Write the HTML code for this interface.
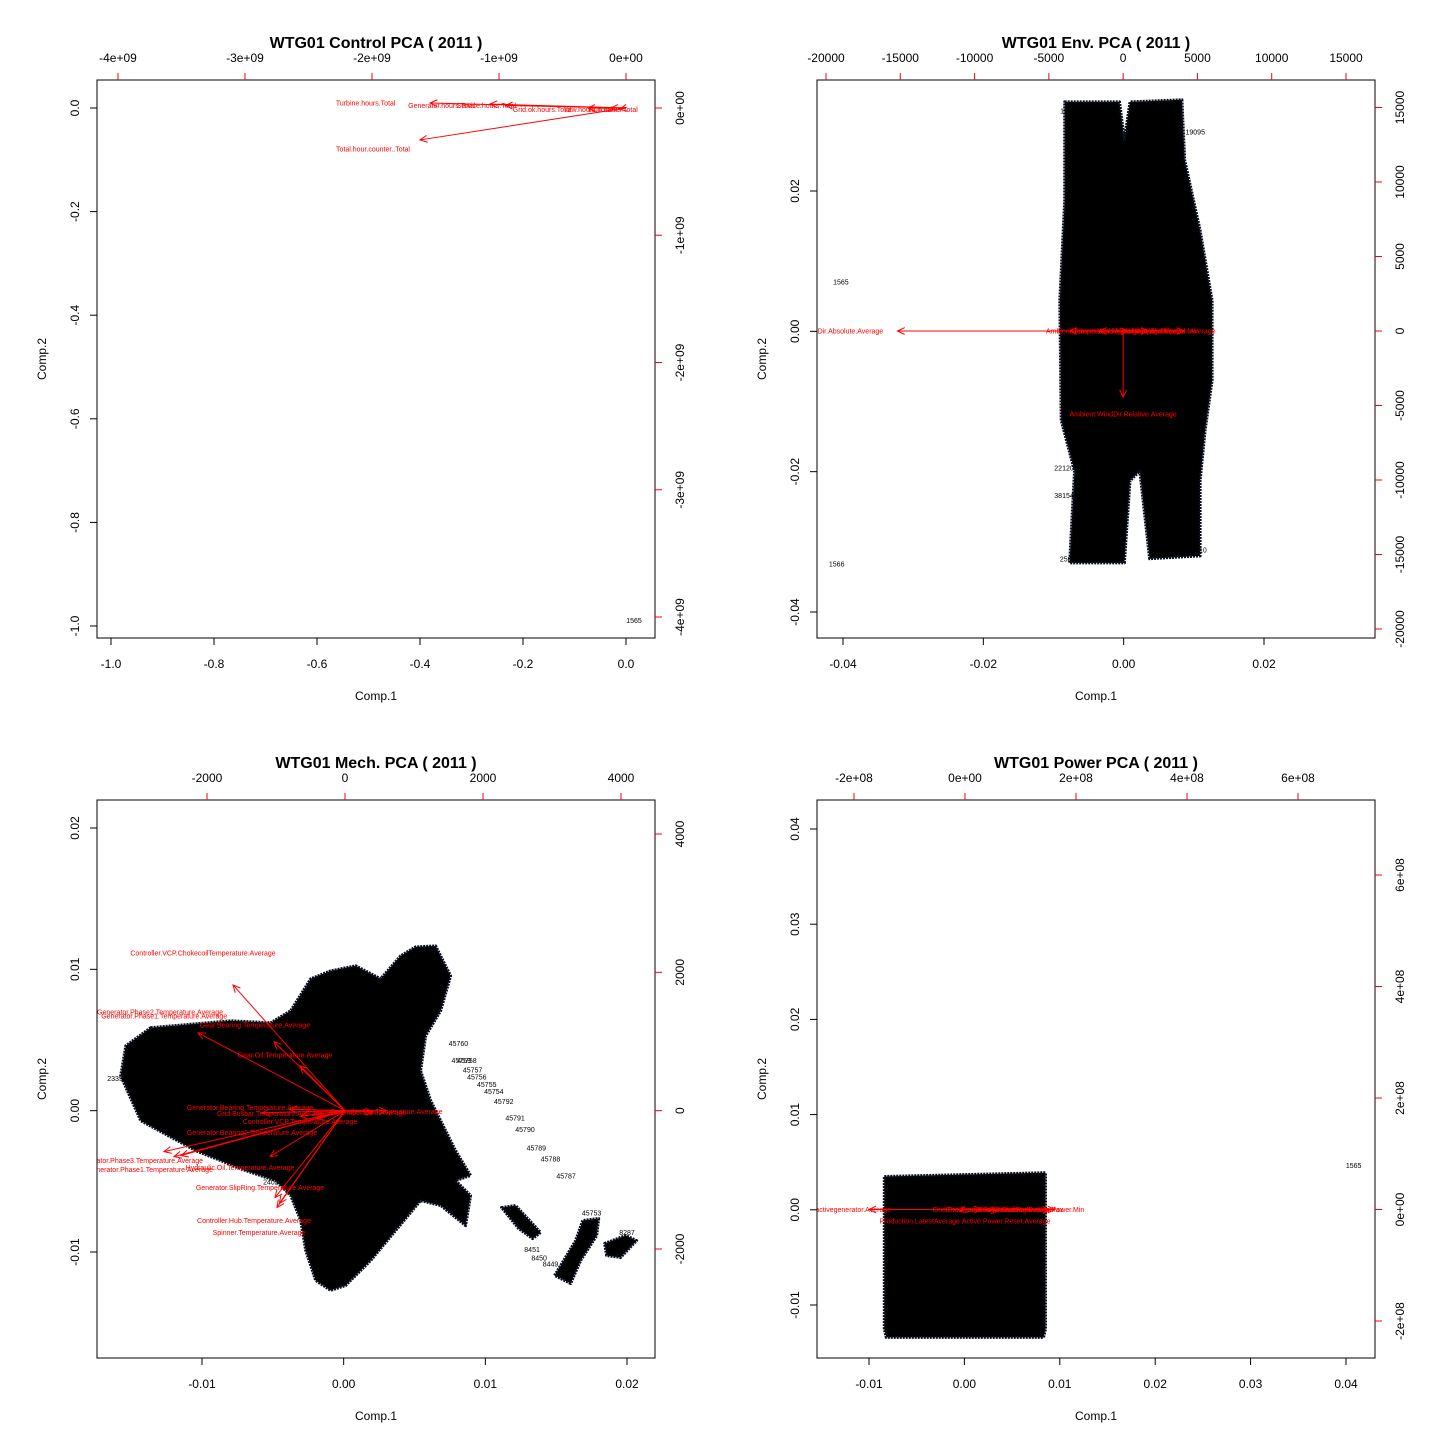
<!DOCTYPE html>
<html><head><meta charset="utf-8"><style>
html,body{margin:0;padding:0;background:#fff}
svg{display:block;font-family:"Liberation Sans",sans-serif}
</style></head><body>
<svg id="chart" width="1440" height="1440" viewBox="0 0 1440 1440"></svg>
<script>
// ---------- DATA ----------
const p1Titles = "WTG01 Control PCA ( 2011 )";
const p1BottomTicks = [-1.0,-0.8,-0.6,-0.4,-0.2,0.0];
const p1BottomLabels = ["-1.0","-0.8","-0.6","-0.4","-0.2","0.0"];
const p1LeftTicks = [0.0,-0.2,-0.4,-0.6,-0.8,-1.0];
const p1LeftLabels = ["0.0","-0.2","-0.4","-0.6","-0.8","-1.0"];
const p1TopTicks = [-4e9,-3e9,-2e9,-1e9,0];
const p1TopLabels = ["-4e+09","-3e+09","-2e+09","-1e+09","0e+00"];
const p1RightTicks = [0,-1e9,-2e9,-3e9,-4e9];
const p1RightLabels = ["0e+00","-1e+09","-2e+09","-3e+09","-4e+09"];
const p1ArrowX = [-1.622e9,-1.543e9,-1.071e9,-0.95e9,-0.30e9,-0.12e9,-0.05e9];
const p1ArrowY = [-0.251e9,0.039e9,0.031e9,0.02e9,0.0,0.0,-0.01e9];
const p1LabelX = [-1.992e9,-2.05e9,-1.45e9,-1.10e9,-0.66e9,-0.3e9,-0.1e9];
const p1LabelY = [-0.322e9,0.039e9,0.02e9,0.02e9,-0.01e9,-0.01e9,-0.01e9];
const p1Names = ["Total.hour.counter..Total","Turbine.hours.Total","Generator.hours.Total","Service.hours.Total","Grid.ok.hours.Total","Yaw.hours.Total","Run.hours.Total"];
const p1PointLabels = ["1565"];
const p1PointX = [0.0155];
const p1PointY = [-0.988];

const p2BottomTicks = [-0.04,-0.02,0.0,0.02];
const p2BottomLabels = ["-0.04","-0.02","0.00","0.02"];
const p2LeftTicks = [0.02,0.0,-0.02,-0.04];
const p2LeftLabels = ["0.02","0.00","-0.02","-0.04"];
const p2TopTicks = [-20000,-15000,-10000,-5000,0,5000,10000,15000];
const p2TopLabels = ["-20000","-15000","-10000","-5000","0","5000","10000","15000"];
const p2RightTicks = [15000,10000,5000,0,-5000,-10000,-15000,-20000];
const p2RightLabels = ["15000","10000","5000","0","-5000","-10000","-15000","-20000"];
const p2ArrowX = [-15190,0,-3600,-1600,1700,4100,300];
const p2ArrowY = [0,-4435,0,0,0,0,50];
const p2LabelX = [-19824,0,-2000,-500,1000,2500,3500];
const p2LabelY = [0,-5578,0,0,0,0,0];
const p2Names = ["Ambient.WindDir.Absolute.Average","Ambient.WindDir.Relative.Average","Ambient.Temperature.Average","Ambient.WindSpeed.Average","Ambient.WindSpeed.Max","Ambient.WindSpeed.Min","Nacelle.Direction.Average"];
const p2BlobX = [-0.0084,-0.0006,0.0001,0.0009,0.0083,0.0087,0.0109,0.0126,0.0126,0.0116,0.0109,0.0109,0.0037,0.0023,0.0009,0.0001,-0.0077,-0.0070,-0.0089,-0.0091,-0.0084];
const p2BlobY = [0.0327,0.0327,0.0273,0.0327,0.0330,0.0244,0.0144,0.0044,-0.0070,-0.0141,-0.0213,-0.0320,-0.0324,-0.0199,-0.0213,-0.0330,-0.0330,-0.0199,-0.0127,0.0044,0.0187];
const p2PointLabels = ["1565","1566","19115","25110","43547","19095","22120","38154","25638"];
const p2PointX = [-0.0403,-0.0409,-0.0077,0.0105,0.0087,0.0102,-0.0085,-0.0085,-0.0077];
const p2PointY = [0.0071,-0.0331,0.0315,-0.0311,0.0164,0.0285,-0.0194,-0.0233,-0.0324];

const p3BottomTicks = [-0.01,0.0,0.01,0.02];
const p3BottomLabels = ["-0.01","0.00","0.01","0.02"];
const p3LeftTicks = [0.02,0.01,0.0,-0.01];
const p3LeftLabels = ["0.02","0.01","0.00","-0.01"];
const p3TopTicks = [-2000,0,2000,4000];
const p3TopLabels = ["-2000","0","2000","4000"];
const p3RightTicks = [4000,2000,0,-2000];
const p3RightLabels = ["4000","2000","0","-2000"];
const p3ArrowX = [-1623,-2130,-1029,-652,-2623,-2478,-2376,-1087,-1014,-986,-950,-800,-1200,-650,400,600,-400];
const p3ArrowY = [1818,1126,996,649,-592,-664,-649,-664,-1255,-1400,-1340,20,-30,-80,-20,0,-120];
const p3LabelX = [-2058,-1304,-869,-2681,-2970,-2826,-2620,-1521,-1232,-1319,-1246,-1377,-1087,-652,-1348,217,600];
const p3LabelY = [2280,1241,808,1429,-722,-851,1371,-823,-1111,-1587,-1760,43,-43,-159,-317,-29,-10];
const p3Names = ["Controller.VCP.ChokecoilTemperature.Average","Gear.Bearing.Temperature.Average","Gear.Oil.Temperature.Average","Generator.Phase2.Temperature.Average","Generator.Phase3.Temperature.Average","Generator.Phase1.Temperature.Average","Generator.Phase1.Temperature.Average","Hydraulic.Oil.Temperature.Average","Generator.SlipRing.Temperature.Average","Controller.Hub.Temperature.Average","Spinner.Temperature.Average","Generator.Bearing.Temperature.Average","Grid.Busbar.Temperature.Average","Controller.VCP.Temperature.Average","Generator.Bearing2.Temperature.Average","Nacelle.Temperature.Average","Controller.Top.Temperature.Average"];
const p3BlobX = [-0.01362,-0.00797,-0.00515,-0.00374,-0.00233,-0.00092,0.00085,0.00261,0.00402,0.00508,0.00649,0.00755,0.00685,0.00579,0.00543,0.00614,0.0079,0.00896,0.0079,0.00896,0.00861,0.00685,0.00543,0.00367,0.00191,0.00014,-0.00092,-0.00198,-0.00268,-0.00303,-0.00374,-0.0048,-0.00692,-0.01044,-0.01433,-0.01574,-0.01538];
const p3BlobY = [0.00587,0.00636,0.00622,0.00707,0.00933,0.00989,0.01025,0.00933,0.01095,0.01159,0.01166,0.00954,0.00707,0.0053,0.00283,0.00071,-0.00283,-0.00459,-0.00495,-0.00601,-0.00813,-0.00671,-0.00636,-0.00848,-0.0106,-0.01237,-0.01272,-0.01201,-0.00989,-0.00777,-0.00601,-0.00495,-0.00424,-0.00283,-0.00071,0.00247,0.00459];
const p3BlobAX = [0.01115,0.01214,0.0139,0.01334,0.01235];
const p3BlobAY = [-0.00686,-0.00671,-0.00862,-0.00905,-0.00834];
const p3BlobBX = [0.01489,0.01637,0.01687,0.018,0.01786,0.01673,0.01602];
const p3BlobBY = [-0.01166,-0.00919,-0.00777,-0.00763,-0.00884,-0.0106,-0.01223];
const p3BlobCX = [0.01842,0.0199,0.02068,0.01955,0.01856];
const p3BlobCY = [-0.0094,-0.00883,-0.00919,-0.01039,-0.01025];
const p3PointLabels = ["45760","45759","45758","45757","45756","45755","45754","45792","45791","45790","45789","45788","45787","45753","8451","8450","8449","8287","23351","24024","24025"];
const p3PointX = [0.0081,0.0083,0.0087,0.0091,0.0094,0.0101,0.0106,0.0113,0.0121,0.0128,0.0136,0.0146,0.0157,0.0175,0.0133,0.0138,0.0146,0.0200,-0.0160,-0.0050,-0.0050];
const p3PointY = [0.0048,0.0036,0.0036,0.0029,0.0024,0.0019,0.0014,0.0007,-0.0005,-0.0013,-0.0026,-0.0034,-0.0046,-0.0072,-0.0098,-0.0104,-0.0108,-0.0086,0.0023,-0.0041,-0.0050];

const p4BottomTicks = [-0.01,0.0,0.01,0.02,0.03,0.04];
const p4BottomLabels = ["-0.01","0.00","0.01","0.02","0.03","0.04"];
const p4LeftTicks = [0.04,0.03,0.02,0.01,0.0,-0.01];
const p4LeftLabels = ["0.04","0.03","0.02","0.01","0.00","-0.01"];
const p4TopTicks = [-2e8,0,2e8,4e8,6e8];
const p4TopLabels = ["-2e+08","0e+00","2e+08","4e+08","6e+08"];
const p4RightTicks = [6e8,4e8,2e8,0,-2e8];
const p4RightLabels = ["6e+08","4e+08","2e+08","0e+00","-2e+08"];
const p4ArrowX = [-1.73e8,1.53e8,-0.1e8,0.6e8,1.62e8,0.3e8];
const p4ArrowY = [0,-0.01e8,-0.04e8,-0.02e8,0,0];
const p4LabelX = [-2.55e8,0,0.3e8,1.0e8,1.4e8,0.6e8];
const p4LabelY = [0,-0.21e8,0,0,0,0];
const p4Names = ["Grid.Production.Reactivegenerator.Average","Production.LatestAverage.Active.Power.Reset.Average","Grid.Production.Power.Average","Grid.Production.Power.Max","Grid.Production.Power.Min","Grid.Production.Reactive.Average"];
const p4BlobX = [-0.0084,0.0085,0.0085,0.0083,-0.0082,-0.0084];
const p4BlobY = [0.0035,0.0039,-0.0125,-0.0134,-0.0134,-0.0125];
const p4PointLabels = ["1565"];
const p4PointX = [0.0408];
const p4PointY = [0.0047];

// ---------- DRAWING ----------
const NS = "http://www.w3.org/2000/svg";
const svg = document.getElementById("chart");
function el(tag, attrs, parent){const e=document.createElementNS(NS,tag);for(const k in attrs)e.setAttribute(k,attrs[k]);(parent||svg).appendChild(e);return e;}
function lin(d0,p0,d1,p1){return v=>p0+(v-d0)*(p1-p0)/(d1-d0);}

function drawPanel(id, cfg){
  const g = el("g",{});
  
  
  const b=cfg.box;
  const sx=lin(...cfg.bx), sy=lin(...cfg.ly), tx=lin(...cfg.tx), ry=lin(...cfg.ry);
  const cp=el("clipPath",{id:id+"clip"},g);
  el("rect",{x:b[0],y:b[1],width:b[2]-b[0],height:b[3]-b[1]},cp);
  const inner=el("g",{"clip-path":"url(#"+id+"clip)"},g);
  
  
  cfg.blobs.forEach((bl,i)=>{
    const pts=bl[0].map((x,j)=>sx(x).toFixed(1)+","+sy(bl[1][j]).toFixed(1)).join(" ");
    const p=el("polygon",{points:pts,fill:"#000",stroke:"#0a0f1e","stroke-width":3,"stroke-dasharray":"2 1","stroke-linejoin":"round"},inner);
    
    
  });
  cfg.pl[0].forEach((t,i)=>{
    const tt=el("text",{x:sx(cfg.pl[1][i]),y:sy(cfg.pl[2][i])+3,"font-size":7,"text-anchor":"middle",fill:"#000"},inner);
    tt.textContent=t;
    
    
  });
  const ox=tx(0), oy=ry(0);
  cfg.ax.forEach((x,i)=>{
    const ex=tx(x), ey=ry(cfg.ay[i]);
    const ln=el("line",{x1:ox,y1:oy,x2:ex,y2:ey,stroke:"#f00","stroke-width":1},inner);
    
    
    const ang=Math.atan2(ey-oy,ex-ox), L=8, a=0.45;
    const hd=el("polyline",{points:`${ex-L*Math.cos(ang-a)},${ey-L*Math.sin(ang-a)} ${ex},${ey} ${ex-L*Math.cos(ang+a)},${ey-L*Math.sin(ang+a)}`,fill:"none",stroke:"#f00","stroke-width":1},inner);
    
    
    const lt=el("text",{x:tx(cfg.lx[i]),y:ry(cfg.ly2[i])+2.5,"font-size":7,"text-anchor":"middle",fill:"#f00"},inner);
    lt.textContent=cfg.names[i];
    
    
  });
  const bx=el("rect",{x:b[0],y:b[1],width:b[2]-b[0],height:b[3]-b[1],fill:"none",stroke:"#000","stroke-width":1},g);
  
  
  function axis(side, ticks, labels, sc, color){
    const ag=el("g",{},g);
    
    
    const ps=ticks.map(sc);
    const lo=Math.min(...ps), hi=Math.max(...ps);
    if(side==="bottom"||side==="top"){
      const y=side==="bottom"?b[3]:b[1], d=side==="bottom"?7:-7;
      el("line",{x1:lo,y1:y,x2:hi,y2:y,stroke:"#000"},ag);
      ps.forEach((p,i)=>{
        el("line",{x1:p,y1:y,x2:p,y2:y+d,stroke:color||"#000"},ag);
        const t=el("text",{x:p,y:side==="bottom"?y+30:y-18,"font-size":12,"text-anchor":"middle"},ag);
        t.textContent=labels[i];
        
        
      });
    } else {
      const x=side==="left"?b[0]:b[2], d=side==="left"?-7:7;
      el("line",{x1:x,y1:lo,x2:x,y2:hi,stroke:"#000"},ag);
      ps.forEach((p,i)=>{
        el("line",{x1:x,y1:p,x2:x+d,y2:p,stroke:color||"#000"},ag);
        const lx=side==="left"?x-18:x+29;
        const t=el("text",{x:lx,y:p,"font-size":12,"text-anchor":"middle",transform:`rotate(-90 ${lx} ${p})`},ag);
        t.textContent=labels[i];
        
        
      });
    }
  }
  axis("bottom",cfg.bt[0],cfg.bt[1],sx);
  axis("left",cfg.lt[0],cfg.lt[1],sy);
  axis("top",cfg.tt[0],cfg.tt[1],tx,"#f00");
  axis("right",cfg.rt[0],cfg.rt[1],ry,"#f00");
  const cx=(b[0]+b[2])/2;
  const ti=el("text",{x:cx,y:b[1]-32,"font-size":16,"font-weight":"bold","text-anchor":"middle"},g);
  ti.textContent=cfg.title;
  
  
  const xt=el("text",{x:cx,y:b[3]+62,"font-size":12,"text-anchor":"middle"},g);
  xt.textContent="Comp.1";
  
  
  const yx=b[0]-51, yy=(b[1]+b[3])/2;
  const yt=el("text",{x:yx,y:yy,"font-size":12,"text-anchor":"middle",transform:`rotate(-90 ${yx} ${yy})`},g);
  yt.textContent="Comp.2";
  
  
}

drawPanel("control",{title:p1Titles,box:[97,80,655,638],bx:[-1,111,0,626],ly:[0,108,-1,626],tx:[-4e9,118,0,626],ry:[0,108,-4e9,617],
  bt:[p1BottomTicks,p1BottomLabels],lt:[p1LeftTicks,p1LeftLabels],tt:[p1TopTicks,p1TopLabels],rt:[p1RightTicks,p1RightLabels],
  ax:p1ArrowX,ay:p1ArrowY,lx:p1LabelX,ly2:p1LabelY,names:p1Names,blobs:[],pl:[p1PointLabels,p1PointX,p1PointY]});
drawPanel("env",{title:"WTG01 Env. PCA ( 2011 )",box:[817,80,1375,638],bx:[-0.04,843,0.02,1264],ly:[0.02,191,-0.04,612],tx:[-20000,826,15000,1346],ry:[0,331,-20000,629],
  bt:[p2BottomTicks,p2BottomLabels],lt:[p2LeftTicks,p2LeftLabels],tt:[p2TopTicks,p2TopLabels],rt:[p2RightTicks,p2RightLabels],
  ax:p2ArrowX,ay:p2ArrowY,lx:p2LabelX,ly2:p2LabelY,names:p2Names,blobs:[[p2BlobX,p2BlobY]],pl:[p2PointLabels,p2PointX,p2PointY]});
drawPanel("mech",{title:"WTG01 Mech. PCA ( 2011 )",box:[97,800,655,1358],bx:[-0.01,202,0.02,627],ly:[0.02,828,-0.01,1252],tx:[-2000,207,4000,621],ry:[4000,834,-2000,1249],
  bt:[p3BottomTicks,p3BottomLabels],lt:[p3LeftTicks,p3LeftLabels],tt:[p3TopTicks,p3TopLabels],rt:[p3RightTicks,p3RightLabels],
  ax:p3ArrowX,ay:p3ArrowY,lx:p3LabelX,ly2:p3LabelY,names:p3Names,blobs:[[p3BlobX,p3BlobY],[p3BlobAX,p3BlobAY],[p3BlobBX,p3BlobBY],[p3BlobCX,p3BlobCY]],pl:[p3PointLabels,p3PointX,p3PointY]});
drawPanel("power",{title:"WTG01 Power PCA ( 2011 )",box:[817,800,1375,1358],bx:[-0.01,869,0.04,1346],ly:[0.04,829,-0.01,1305],tx:[-2e8,854,6e8,1298],ry:[6e8,875,-2e8,1321],
  bt:[p4BottomTicks,p4BottomLabels],lt:[p4LeftTicks,p4LeftLabels],tt:[p4TopTicks,p4TopLabels],rt:[p4RightTicks,p4RightLabels],
  ax:p4ArrowX,ay:p4ArrowY,lx:p4LabelX,ly2:p4LabelY,names:p4Names,blobs:[[p4BlobX,p4BlobY]],pl:[p4PointLabels,p4PointX,p4PointY]});
</script>
</body></html>
